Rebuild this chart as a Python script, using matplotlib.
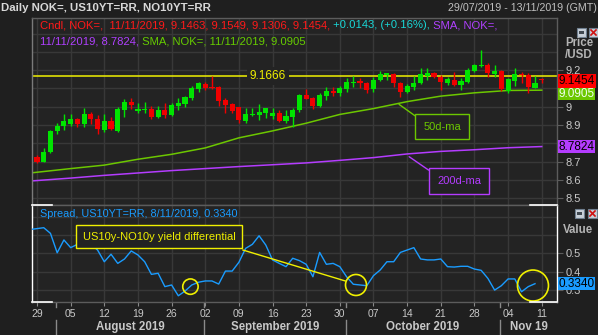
import matplotlib
matplotlib.use('Agg')
import matplotlib.pyplot as plt
import matplotlib.transforms as mtransforms
from matplotlib.patches import Ellipse, Rectangle
from matplotlib.lines import Line2D

plt.rcParams['font.family'] = ['Liberation Sans', 'DejaVu Sans']

# ---------------- data ----------------
day_idx = list(range(76))
opens = [8.727, 8.700, 8.751, 8.867, 8.896, 8.905, 8.933, 8.905, 8.960, 8.933,
         8.873, 8.922, 8.867, 8.982, 9.026, 8.979, 8.982, 8.986, 8.945, 8.982,
         8.955, 9.004, 9.015, 9.046, 9.097, 9.124, 9.109, 9.108, 9.037, 9.015,
         8.997, 8.922, 8.955, 8.955, 8.967, 8.949, 8.964, 8.922, 8.945, 8.982,
         9.064, 9.046, 9.004, 9.060, 9.087, 9.073, 9.095, 9.130, 9.142, 9.131,
         9.095, 9.146, 9.173, 9.179, 9.131, 9.078, 9.109, 9.128, 9.168, 9.182,
         9.160, 9.131, 9.146, 9.119, 9.137, 9.197, 9.225, 9.228, 9.179, 9.197,
         9.087, 9.142, 9.180, 9.173, 9.105, 9.1463]
highs = [8.736, 8.773, 8.874, 8.909, 8.958, 8.958, 8.940, 8.991, 8.969, 8.955,
         8.958, 8.945, 9.000, 9.040, 9.046, 9.019, 9.024, 9.004, 9.004, 9.019,
         9.019, 9.046, 9.060, 9.113, 9.137, 9.137, 9.1666, 9.113, 9.046, 9.019,
         9.000, 8.995, 8.993, 9.015, 8.991, 8.995, 8.982, 8.982, 8.991, 9.070,
         9.095, 9.055, 9.073, 9.106, 9.106, 9.113, 9.155, 9.166, 9.155, 9.137,
         9.160, 9.197, 9.186, 9.186, 9.137, 9.126, 9.166, 9.210, 9.210, 9.190,
         9.173, 9.164, 9.191, 9.155, 9.210, 9.234, 9.310, 9.240, 9.230, 9.200,
         9.155, 9.210, 9.190, 9.186, 9.170, 9.1549]
lows = [8.691, 8.697, 8.745, 8.849, 8.873, 8.896, 8.891, 8.891, 8.907, 8.852,
        8.863, 8.872, 8.860, 8.945, 8.986, 8.964, 8.964, 8.931, 8.937, 8.937,
        8.950, 8.982, 9.000, 9.037, 9.082, 9.091, 9.095, 9.004, 8.967, 8.964,
        8.913, 8.910, 8.949, 8.927, 8.937, 8.931, 8.915, 8.913, 8.887, 8.973,
        9.040, 8.986, 8.996, 9.037, 9.060, 9.060, 9.080, 9.110, 9.104, 9.077,
        9.080, 9.142, 9.146, 9.106, 9.051, 9.073, 9.091, 9.124, 9.146, 9.155,
        9.091, 9.118, 9.113, 9.090, 9.130, 9.190, 9.215, 9.164, 9.164, 9.088,
        9.077, 9.115, 9.130, 9.077, 9.100, 9.1306]
closes = [8.700, 8.751, 8.867, 8.895, 8.923, 8.931, 8.905, 8.960, 8.931, 8.878,
          8.922, 8.878, 8.987, 9.024, 9.009, 8.985, 8.989, 8.945, 8.982, 8.955,
          9.009, 9.022, 9.055, 9.104, 9.128, 9.104, 9.100, 9.031, 9.009, 8.978,
          8.927, 8.960, 8.963, 8.973, 8.991, 8.967, 8.922, 8.949, 8.982, 9.064,
          9.042, 9.004, 9.064, 9.087, 9.073, 9.100, 9.133, 9.137, 9.128, 9.091,
          9.146, 9.179, 9.182, 9.128, 9.082, 9.113, 9.131, 9.179, 9.186, 9.160,
          9.133, 9.150, 9.119, 9.142, 9.200, 9.228, 9.228, 9.182, 9.197, 9.095,
          9.150, 9.179, 9.175, 9.109, 9.1311, 9.1454]

sma_idx = [-1, 5, 10, 15, 20, 25, 30, 35, 40, 45, 50, 55, 60, 65, 70, 75]
sma50 = [8.638, 8.662, 8.681, 8.713, 8.740, 8.775, 8.830, 8.868, 8.910, 8.958,
         8.990, 9.028, 9.058, 9.076, 9.089, 9.0905]
sma200 = [8.594, 8.610, 8.625, 8.638, 8.651, 8.662, 8.673, 8.683, 8.693, 8.707,
          8.722, 8.742, 8.756, 8.765, 8.776, 8.7824]

spread_idx = list(range(-1, 75))
spread = [0.630, 0.635, 0.640, 0.609, 0.503, 0.573, 0.531, 0.549, 0.570, 0.550,
          0.518, 0.454, 0.495, 0.445, 0.469, 0.513, 0.491, 0.454, 0.385, 0.391,
          0.318, 0.327, 0.268, 0.294, 0.327, 0.342, 0.349, 0.349, 0.332, 0.403,
          0.403, 0.451, 0.527, 0.549, 0.596, 0.545, 0.464, 0.445, 0.427, 0.473,
          0.460, 0.440, 0.372, 0.505, 0.440, 0.445, 0.427, 0.372, 0.331, 0.327,
          0.323, 0.378, 0.409, 0.454, 0.454, 0.505, 0.518, 0.531, 0.469, 0.464,
          0.464, 0.469, 0.427, 0.425, 0.429, 0.429, 0.414, 0.407, 0.363, 0.299,
          0.323, 0.360, 0.360, 0.290, 0.318, 0.334]

week_idx = [0, 5, 10, 15, 20, 25, 30, 35, 40, 45, 50, 55, 60, 65, 70, 75]
week_labels = ['29', '05', '12', '19', '26', '02', '09', '16', '23', '30',
               '07', '14', '21', '28', '04', '11']
month_bounds = [2.85, 24.85, 45.85, 68.85]
month_labels = ['August 2019', 'September 2019', 'October 2019', 'Nov 19']

price_ticks = [8.5, 8.6, 8.7, 8.9, 9.0, 9.2]
price_tick_labels = ['8.5', '8.6', '8.7', '8.9', '9', '9.2']
price_grid = [8.5, 8.6, 8.7, 8.8, 8.9, 9.0, 9.1, 9.2, 9.3, 9.4]
spread_ticks = [0.3, 0.4, 0.5]
spread_tick_labels = ['0.3', '0.4', '0.5']
spread_grid = [0.3, 0.4, 0.5, 0.6, 0.7]
resistance = 9.1666

# ---------------- style ----------------
W, H = 598, 335
FIG_BG = '#1f1f1f'
AX_BG = '#232323'
GRID = '#383838'
SPINE = '#5c5c5c'
TXT = '#c8c8c8'
UP = '#00e400'
DOWN = '#f00000'
C50 = '#6cc700'
C200 = '#b43cff'
BLUE = '#1a9cff'
YEL = '#f0f000'

def px(x, y):
    return x / W, 1 - y / H

fig = plt.figure(figsize=(W / 100, H / 100), dpi=100, facecolor=FIG_BG)
ax1 = fig.add_axes([32 / W, (H - 205) / H, 525 / W, 187 / H], facecolor=AX_BG)
ax2 = fig.add_axes([32 / W, (H - 302) / H, 525 / W, 97 / H], facecolor=AX_BG, sharex=ax1)

xlim = (-0.743, 77.27)
ax1.set_xlim(*xlim)
ax1.set_ylim(8.463, 9.485)
ax2.set_ylim(0.234, 0.764)

for ax in (ax1, ax2):
    for s in ax.spines.values():
        s.set_color(SPINE)
        s.set_linewidth(1)
    for xi in week_idx:
        ax.axvline(xi, color=GRID, lw=1, zorder=0)
for g in price_grid:
    ax1.axhline(g, color=GRID, lw=1, zorder=0)
for g in spread_grid:
    ax2.axhline(g, color=GRID, lw=1, zorder=0)
ax1.spines['left'].set_color('#7a7a7a')

# ---------------- candles ----------------
colors = [UP if c >= o else DOWN for o, c in zip(opens, closes)]
bottoms = [min(o, c) for o, c in zip(opens, closes)]
heights = [max(abs(c - o), 0.0055) for o, c in zip(opens, closes)]
ax1.vlines(day_idx, lows, highs, colors=colors, lw=1, zorder=3)
ax1.bar(day_idx, heights, bottom=bottoms, width=0.76, color=colors, linewidth=0, zorder=4)

ax1.plot(sma_idx, sma50, color=C50, lw=1.1, zorder=2)
ax1.plot(sma_idx, sma200, color=C200, lw=1.1, zorder=2)

ax1.axhline(resistance, color=YEL, lw=1.1, zorder=2)
ax1.text(34.3, resistance, '9.1666', color=YEL, fontsize=8.5, ha='center', va='center',
         zorder=5, bbox=dict(boxstyle='square,pad=0.25', fc=AX_BG, ec='none'))

ax1.annotate('50d-ma', xy=(53.8, 9.013), xytext=(60.2, 8.891), color=C50, fontsize=8,
             ha='center', va='center', zorder=6,
             bbox=dict(boxstyle='square,pad=0.7', fc=AX_BG, ec=C50, lw=1),
             arrowprops=dict(arrowstyle='-', color=C50, lw=1, relpos=(0, 1),
                             shrinkA=0, shrinkB=0))
ax1.annotate('200d-ma', xy=(55.3, 8.727), xytext=(62.7, 8.595), color=C200, fontsize=8,
             ha='center', va='center', zorder=6,
             bbox=dict(boxstyle='square,pad=0.7', fc=AX_BG, ec=C200, lw=1),
             arrowprops=dict(arrowstyle='-', color=C200, lw=1, relpos=(0, 1),
                             shrinkA=0, shrinkB=0))

# price axis (right)
ax1.yaxis.tick_right()
ax1.set_yticks(price_ticks)
ax1.set_yticklabels(price_tick_labels)
ax1.tick_params(axis='y', colors=SPINE, labelcolor=TXT, labelsize=8, length=4, pad=2)
ax1.tick_params(axis='x', length=0, labelbottom=False)

yb1 = mtransforms.blended_transform_factory(ax1.transAxes, ax1.transData)
BOX_FS = 8.5
BOX_PAD = 'square,pad=0.06'
ax1.annotate('9.1454', xy=(1.003, 9.1454), xycoords=yb1, xytext=(0, -0.5),
             textcoords='offset points', color='black', fontsize=BOX_FS, ha='left',
             va='center', zorder=10, annotation_clip=False,
             bbox=dict(boxstyle=BOX_PAD, fc='#ff0000', ec='none'))
ax1.annotate('9.0905', xy=(1.003, 9.0905), xycoords=yb1, xytext=(0, -2.5),
             textcoords='offset points', color='#f0fff0', fontsize=BOX_FS, ha='left',
             va='center', zorder=9, annotation_clip=False,
             bbox=dict(boxstyle=BOX_PAD, fc=C50, ec='none'))
ax1.text(1.003, 8.7824, '8.7824', transform=yb1, color='black', fontsize=BOX_FS, ha='left',
         va='center', zorder=10, clip_on=False,
         bbox=dict(boxstyle=BOX_PAD, fc=C200, ec='none'))

# ---------------- spread panel ----------------
ax2.plot(spread_idx, spread, color=BLUE, lw=1, zorder=3)
ax2.yaxis.tick_right()
ax2.set_yticks(spread_ticks)
ax2.set_yticklabels(spread_tick_labels)
ax2.tick_params(axis='y', colors=SPINE, labelcolor=TXT, labelsize=8, length=4, pad=2)
yb2 = mtransforms.blended_transform_factory(ax2.transAxes, ax2.transData)
ax2.text(1.003, 0.334, '0.3340', transform=yb2, color='black', fontsize=BOX_FS, ha='left',
         va='center', zorder=10, clip_on=False,
         bbox=dict(boxstyle=BOX_PAD, fc=BLUE, ec='none'))

ax2.text(18.13, 0.591, 'US10y-NO10y yield differential', color=YEL, fontsize=8,
         ha='center', va='center', zorder=6,
         bbox=dict(boxstyle='square,pad=0.6', fc=AX_BG, ec=YEL, lw=1))
ax2.plot([30.6, 45.8], [0.518, 0.349], color=YEL, lw=1, zorder=4)
for (cx, cy, r) in [(22.8, 0.318, 7.7), (47.4, 0.327, 10.5), (73.7, 0.324, 15.5)]:
    ax2.add_patch(Ellipse((cx, cy), 2 * r / 6.73, 2 * r / 183, fill=False, ec=YEL,
                          lw=1.2, zorder=5, clip_on=False))

ax2.text(0.015, 0.96, 'Spread, US10YT=RR, 8/11/2019, 0.3340', transform=ax2.transAxes,
         color=BLUE, fontsize=7.85, ha='left', va='top', zorder=6)

# white bracket on spread panel
for s in ('left', 'right'):
    ax2.spines[s].set_color('white')
for (x0, x1_, y) in [(0, 20 / 525, 1), (0, 20 / 525, 0), (1 - 27 / 525, 1, 1), (1 - 27 / 525, 1, 0)]:
    ax2.add_line(Line2D([x0, x1_], [y, y], transform=ax2.transAxes, color='white', lw=1.2,
                        clip_on=False, zorder=10))

# x axis
ax2.set_xticks(week_idx)
ax2.set_xticklabels(week_labels)
ax2.tick_params(axis='x', colors='#8a8a8a', labelcolor=TXT, labelsize=7.5, length=3, pad=2)
xb2 = mtransforms.blended_transform_factory(ax2.transData, ax2.transAxes)
ends = month_bounds[1:] + [xlim[1]]
for b, e, lab in zip(month_bounds, ends, month_labels):
    ax2.add_line(Line2D([b, b], [-0.01, -0.05], transform=xb2, color='#8a8a8a', lw=1, clip_on=False))
    ax2.add_line(Line2D([b, b], [-0.19, -0.35], transform=xb2, color='#8a8a8a', lw=1, clip_on=False))
    ax2.text((b + e) / 2, -0.258, lab, transform=xb2, color=TXT, fontsize=8.3,
             fontweight='bold', ha='center', va='center', clip_on=False)

# ---------------- header texts ----------------
fig.text(*px(1, 8), 'Daily NOK=, US10YT=RR, NO10YT=RR', color='#d8d8d8', fontsize=8.2,
         fontweight='bold', ha='left', va='center')
fig.text(*px(597, 8), '29/07/2019 - 13/11/2019 (GMT)', color='#c0c0c0', fontsize=7.7,
         ha='right', va='center')

def chain(pieces, x, y, size):
    t = fig.text(*px(x, y), pieces[0][0], color=pieces[0][1], fontsize=size,
                 ha='left', va='center')
    for s, c in pieces[1:]:
        t = ax1.annotate(s, xy=(1, 0), xycoords=t, ha='left', va='bottom', color=c,
                         fontsize=size, annotation_clip=False)
    return t

RED_T = '#ff1a1a'
CYAN_T = '#19d8d8'
PUR_T = '#b040ff'
GRN_T = '#66cc00'
chain([('Cndl, NOK=,  11/11/2019, 9.1463, 9.1549, 9.1306, 9.1454,', RED_T),
       (' +0.0143, (+0.16%),', CYAN_T),
       (' SMA, NOK=,', PUR_T)], 40, 25, 8.1)
chain([('11/11/2019, 8.7824,', PUR_T),
       (' SMA, NOK=, 11/11/2019, 9.0905', GRN_T)], 40, 41, 8.1)

fig.text(*px(565, 43), 'Price', color='#b4b4b4', fontsize=8.3, fontweight='bold',
         ha='left', va='center')
fig.text(*px(565, 55.5), '/USD', color='#b4b4b4', fontsize=8.3, fontweight='bold',
         ha='left', va='center')
fig.text(*px(563, 230), 'Value', color='#b4b4b4', fontsize=8.3, fontweight='bold',
         ha='left', va='center')

# small window icons
def icon(x, y, kind):
    fx, fy = px(x, y + 9)
    fig.patches.append(Rectangle((fx, fy), 9 / W, 9 / H, transform=fig.transFigure,
                                 fc='#c8d0d8', ec='#708090', lw=0.8))
    if kind == 'min':
        fig.patches.append(Rectangle((fx + 2 / W, fy + 3 / H), 5 / W, 3 / H,
                                     transform=fig.transFigure, fc='#404850', ec='none'))
    else:
        fig.add_artist(Line2D([fx + 2 / W, fx + 7 / W], [fy + 2 / H, fy + 7 / H],
                              transform=fig.transFigure, color='#d01010', lw=1.2))
        fig.add_artist(Line2D([fx + 2 / W, fx + 7 / W], [fy + 7 / H, fy + 2 / H],
                              transform=fig.transFigure, color='#d01010', lw=1.2))

icon(577, 28, 'min')
icon(589, 28, 'x')
icon(575, 209, 'min')
icon(588, 209, 'x')

fig.savefig('out.png', dpi=100, facecolor=FIG_BG)
